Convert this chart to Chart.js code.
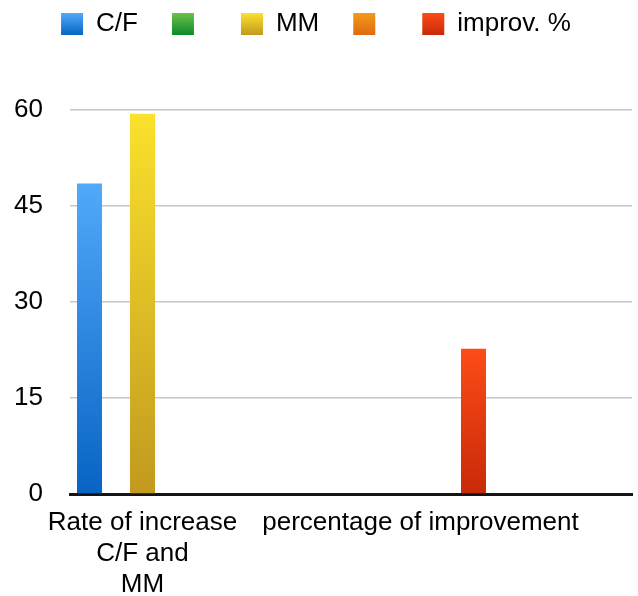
<!DOCTYPE html>
<html>
<head>
<meta charset="utf-8">
<script src="https://cdn.jsdelivr.net/npm/chart.js@4/dist/chart.umd.min.js"></script>
<style>
  html, body { margin: 0; padding: 0; background: #fff; }
  #wrap { width: 638px; height: 596px; position: relative; }
</style>
</head>
<body>
<div id="wrap"><canvas id="chart"></canvas></div>
<script>
// Categories (multi-line labels) and series values
const categories = [['Rate of increase', 'C/F and', 'MM'], ['percentage of improvement']];
const seriesNames = ['C/F', '', 'MM', '', 'improv. %'];
const cfValues = [48.5, null];
const greenValues = [null, null];
const mmValues = [59.4, null];
const orangeValues = [null, null];
const improvValues = [null, 22.7];
const yTicks = [0, 15, 30, 45, 60];

// Top / bottom colours of each series gradient
const palette = [
  ['#52a9f9', '#0764c3'],
  ['#6cc04a', '#0b8b2b'],
  ['#fbe12c', '#c2991f'],
  ['#f39a1c', '#df6a11'],
  ['#fc4c17', '#c82a08']
];

const FONT = { family: '"Liberation Sans", Arial, Helvetica, sans-serif', size: 26, lineHeight: 1.2 };

const toPoints = vals => vals.map((v, i) => ({ x: i, y: v }));

// Vertical gradient running from the top of each bar down to the baseline
function barFill(colors) {
  return (ctx) => {
    const chart = ctx.chart;
    const parsed = ctx.parsed;
    if (!chart.chartArea || !parsed || parsed.y == null) return colors[0];
    const yScale = chart.scales.y;
    const top = yScale.getPixelForValue(parsed.y);
    const base = yScale.getPixelForValue(0);
    const g = chart.ctx.createLinearGradient(0, top, 0, base);
    g.addColorStop(0, colors[0]);
    g.addColorStop(1, colors[1]);
    return g;
  };
}

const seriesValues = [cfValues, greenValues, mmValues, orangeValues, improvValues];
const datasets = seriesValues.map((vals, i) => ({
  label: seriesNames[i],
  data: toPoints(vals),
  backgroundColor: barFill(palette[i]),
  borderWidth: 0,
  categoryPercentage: 0.4766,
  barPercentage: 0.943
}));

// Extra room under the legend, and gradient swatches in it
const legendStyle = {
  id: 'legendStyle',
  afterInit(chart) {
    const legend = chart.legend;
    const fit = legend.fit;
    legend.fit = function () { fit.call(this); this.height += 63; };
  },
  afterUpdate(chart) {
    const legend = chart.legend;
    (legend.legendItems || []).forEach((item, i) => {
      const box = legend.legendHitBoxes[i];
      if (!box) return;
      const colors = palette[item.datasetIndex];
      const g = chart.ctx.createLinearGradient(0, box.top + 2, 0, box.top + 24);
      g.addColorStop(0, colors[0]);
      g.addColorStop(1, colors[1]);
      item.fillStyle = g;
    });
  }
};

new Chart(document.getElementById('chart'), {
  type: 'bar',
  data: { datasets },
  plugins: [legendStyle],
  options: {
    responsive: true,
    maintainAspectRatio: false,
    animation: false,
    layout: { padding: { top: -23, left: 0, right: 6, bottom: 0 } },
    plugins: {
      tooltip: { enabled: false },
      legend: {
        position: 'top',
        labels: { boxWidth: 22, boxHeight: 22, padding: 34, font: FONT, color: '#000' }
      }
    },
    scales: {
      x: {
        type: 'linear',
        offset: false,
        min: -0.2608,
        max: 1.7608,
        grid: { display: false, drawTicks: false, offset: false },
        border: { display: true, color: '#151515', width: 3 },
        ticks: {
          autoSkip: false,
          maxRotation: 0,
          minRotation: 0,
          padding: 13,
          font: FONT,
          color: '#000',
          callback: (value) => categories[value]
        },
        afterBuildTicks(scale) {
          scale.ticks = categories.map((_, i) => ({ value: i }));
        },
        afterFit(scale) {
          scale.height = 102;
          scale.paddingLeft = 0;
          scale.paddingRight = 0;
        }
      },
      y: {
        min: yTicks[0],
        max: yTicks[yTicks.length - 1],
        afterBuildTicks(scale) {
          scale.ticks = yTicks.map(v => ({ value: v }));
        },
        ticks: { font: FONT, color: '#000', padding: 27 },
        grid: { color: '#c6c6c6', lineWidth: 1.5, drawTicks: false },
        border: { display: false },
        afterFit(scale) { scale.width = 70; }
      }
    }
  }
});
</script>
</body>
</html>
